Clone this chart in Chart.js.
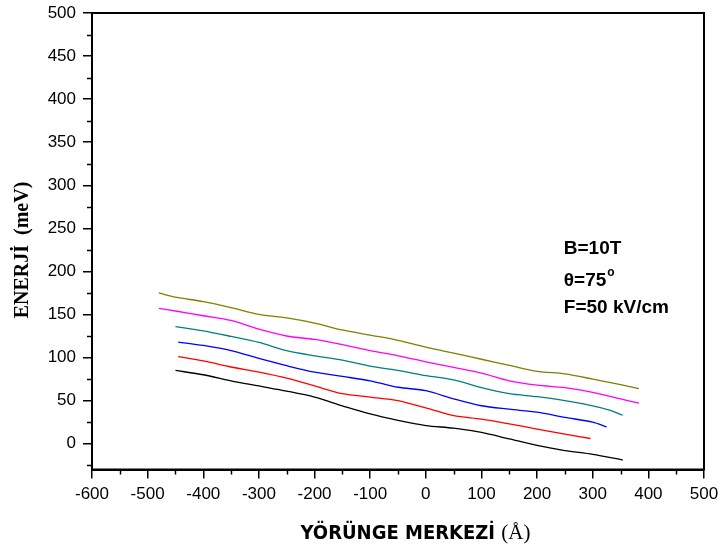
<!DOCTYPE html>
<html>
<head>
<meta charset="utf-8">
<script src="https://cdn.jsdelivr.net/npm/chart.js@4"></script>
<style>
  body { margin: 0; background: #fff; }
  canvas { display: block; }
</style>
</head>
<body>
<canvas id="energyChart" width="720" height="552"></canvas>
<script>
// orbit centre (Å) and energy (meV), one pair of arrays per curve
const oliveX = [-480, -450, -400, -350, -300, -250, -200, -150, -100, -50, 0, 50, 100, 150, 200, 250, 300, 350, 383];
const oliveY = [175, 170, 165, 158, 150, 146, 140, 132, 126, 120, 112, 105, 98, 91, 84, 81, 75, 68.5, 64];

const pinkX = [-480, -450, -400, -350, -300, -250, -200, -150, -100, -50, 0, 50, 100, 150, 200, 250, 300, 350, 383];
const pinkY = [157, 154, 148.5, 143, 133, 125, 121, 115, 108, 102, 95, 88.5, 82, 73, 68, 65, 59.5, 52, 47];

const tealX = [-450, -400, -350, -300, -250, -200, -150, -100, -50, 0, 50, 100, 150, 200, 250, 300, 330, 354];
const tealY = [136, 131, 124.5, 117.5, 108, 102, 97, 90, 85, 79, 74, 65, 58, 54.5, 50, 44, 39, 33];

const blueX = [-445, -400, -350, -300, -250, -200, -150, -100, -50, 0, 50, 100, 150, 200, 250, 300, 325];
const blueY = [118, 114, 108, 99, 90.5, 83, 78, 73, 65.5, 61.5, 52, 44, 40, 36.5, 30.5, 25, 19.5];

const redX = [-445, -400, -350, -300, -250, -200, -150, -100, -50, 0, 50, 100, 150, 200, 250, 296];
const redY = [101, 96, 89, 83, 76, 67, 58, 54, 50, 41.5, 32.5, 28.5, 23, 17, 11, 6];

const blackX = [-450, -400, -350, -300, -250, -200, -150, -100, -50, 0, 50, 100, 150, 200, 250, 300, 354];
const blackY = [85, 80, 73, 67, 61, 54, 44, 34.5, 27, 21, 18, 13, 5.5, -2, -8, -12.5, -19];

const yTickValues = [0, 50, 100, 150, 200, 250, 300, 350, 400, 450, 500];
const yMinorValues = [-25, 25, 75, 125, 175, 225, 275, 325, 375, 425, 475];
const xMinorValues = [-550, -450, -350, -250, -150, -50, 50, 150, 250, 350, 450];

const infoLines = ["B=10T", "θ=75", "F=50 kV/cm"];

function toPoints(xs, ys) {
  return xs.map((x, i) => ({ x: x, y: ys[i] }));
}

function makeSet(xs, ys, color) {
  return {
    data: toPoints(xs, ys),
    borderColor: color,
    backgroundColor: color,
    borderWidth: 1.3,
    pointRadius: 0,
    tension: 0.3,
    fill: false,
  };
}

// frame, minor ticks, axis titles and the parameter text
const extras = {
  id: "extras",
  afterDraw(chart) {
    const ctx = chart.ctx;
    const area = chart.chartArea;
    const xs = chart.scales.x;
    const ys = chart.scales.y;

    ctx.save();
    ctx.strokeStyle = "#000";
    ctx.lineWidth = 2;
    ctx.strokeRect(area.left, area.top, area.right - area.left, area.bottom - area.top);

    ctx.lineWidth = 1.5;
    ctx.beginPath();
    xMinorValues.forEach((v) => {
      const px = Math.round(xs.getPixelForValue(v)) + 0.5;
      ctx.moveTo(px, area.bottom);
      ctx.lineTo(px, area.bottom + 5);
    });
    yMinorValues.forEach((v) => {
      const py = Math.round(ys.getPixelForValue(v)) + 0.5;
      ctx.moveTo(area.left, py);
      ctx.lineTo(area.left - 5, py);
    });
    ctx.stroke();

    // y title
    ctx.fillStyle = "#000";
    ctx.save();
    ctx.translate(23, 250);
    ctx.rotate(-Math.PI / 2);
    ctx.font = "bold 20px 'Liberation Serif', 'Times New Roman', serif";
    ctx.textAlign = "center";
    ctx.textBaseline = "middle";
    ctx.fillText("ENERJİ  (meV)", 0, 0);
    ctx.restore();

    // x title, two fonts like the original
    const partA = "YÖRÜNGE MERKEZİ ";
    const partB = "(Å)";
    ctx.font = "bold 20px 'DejaVu Sans Condensed', 'DejaVu Sans', sans-serif";
    const wA = ctx.measureText(partA).width;
    ctx.font = "21px 'Liberation Serif', 'Times New Roman', serif";
    const wB = ctx.measureText(partB).width;
    let tx = 415.5 - (wA + wB) / 2;
    ctx.textAlign = "left";
    ctx.textBaseline = "alphabetic";
    ctx.font = "bold 20px 'DejaVu Sans Condensed', 'DejaVu Sans', sans-serif";
    ctx.fillText(partA, tx, 539);
    ctx.font = "21px 'Liberation Serif', 'Times New Roman', serif";
    ctx.fillText(partB, tx + wA, 539);

    // parameters
    ctx.font = "bold 19px 'Liberation Sans', Arial, sans-serif";
    const ix = xs.getPixelForValue(248);
    const baseVals = [220, 183, 152];
    infoLines.forEach((t, i) => {
      ctx.fillText(t, ix, ys.getPixelForValue(baseVals[i]));
    });
    const degX = ix + ctx.measureText(infoLines[1]).width + 1;
    ctx.font = "bold 12px 'Liberation Sans', Arial, sans-serif";
    ctx.fillText("o", degX, ys.getPixelForValue(195));
    ctx.restore();
  },
};

const tickFont = { family: "'Liberation Sans', Arial, sans-serif", size: 17 };

new Chart(document.getElementById("energyChart").getContext("2d"), {
  type: "line",
  data: {
    datasets: [
      makeSet(oliveX, oliveY, "#808000"),
      makeSet(pinkX, pinkY, "#FF00FF"),
      makeSet(tealX, tealY, "#008080"),
      makeSet(blueX, blueY, "#0000FF"),
      makeSet(redX, redY, "#FF0000"),
      makeSet(blackX, blackY, "#000000"),
    ],
  },
  options: {
    responsive: false,
    animation: false,
    layout: { padding: { top: 13, right: 16, left: 0, bottom: 0 } },
    plugins: {
      legend: { display: false },
      tooltip: { enabled: false },
    },
    scales: {
      x: {
        type: "linear",
        min: -600,
        max: 500,
        afterFit: (scale) => {
          scale.height = 82.5;
          scale.paddingLeft = 0;
          scale.paddingRight = 0;
        },
        ticks: { stepSize: 100, color: "#000", font: tickFont, padding: 6, maxRotation: 0 },
        grid: { drawOnChartArea: false, drawTicks: true, tickLength: 9, color: "#000", lineWidth: 1.5 },
        border: { display: true, color: "#000", width: 2 },
      },
      y: {
        type: "linear",
        min: -30,
        max: 500,
        afterFit: (scale) => {
          scale.width = 92;
          scale.paddingTop = 0;
          scale.paddingBottom = 0;
        },
        afterBuildTicks: (scale) => {
          scale.ticks = yTickValues.map((v) => ({ value: v }));
        },
        ticks: { color: "#000", font: tickFont, padding: 7 },
        grid: { drawOnChartArea: false, drawTicks: true, tickLength: 9, color: "#000", lineWidth: 1.5 },
        border: { display: true, color: "#000", width: 2 },
      },
    },
  },
  plugins: [extras],
});
</script>
</body>
</html>
